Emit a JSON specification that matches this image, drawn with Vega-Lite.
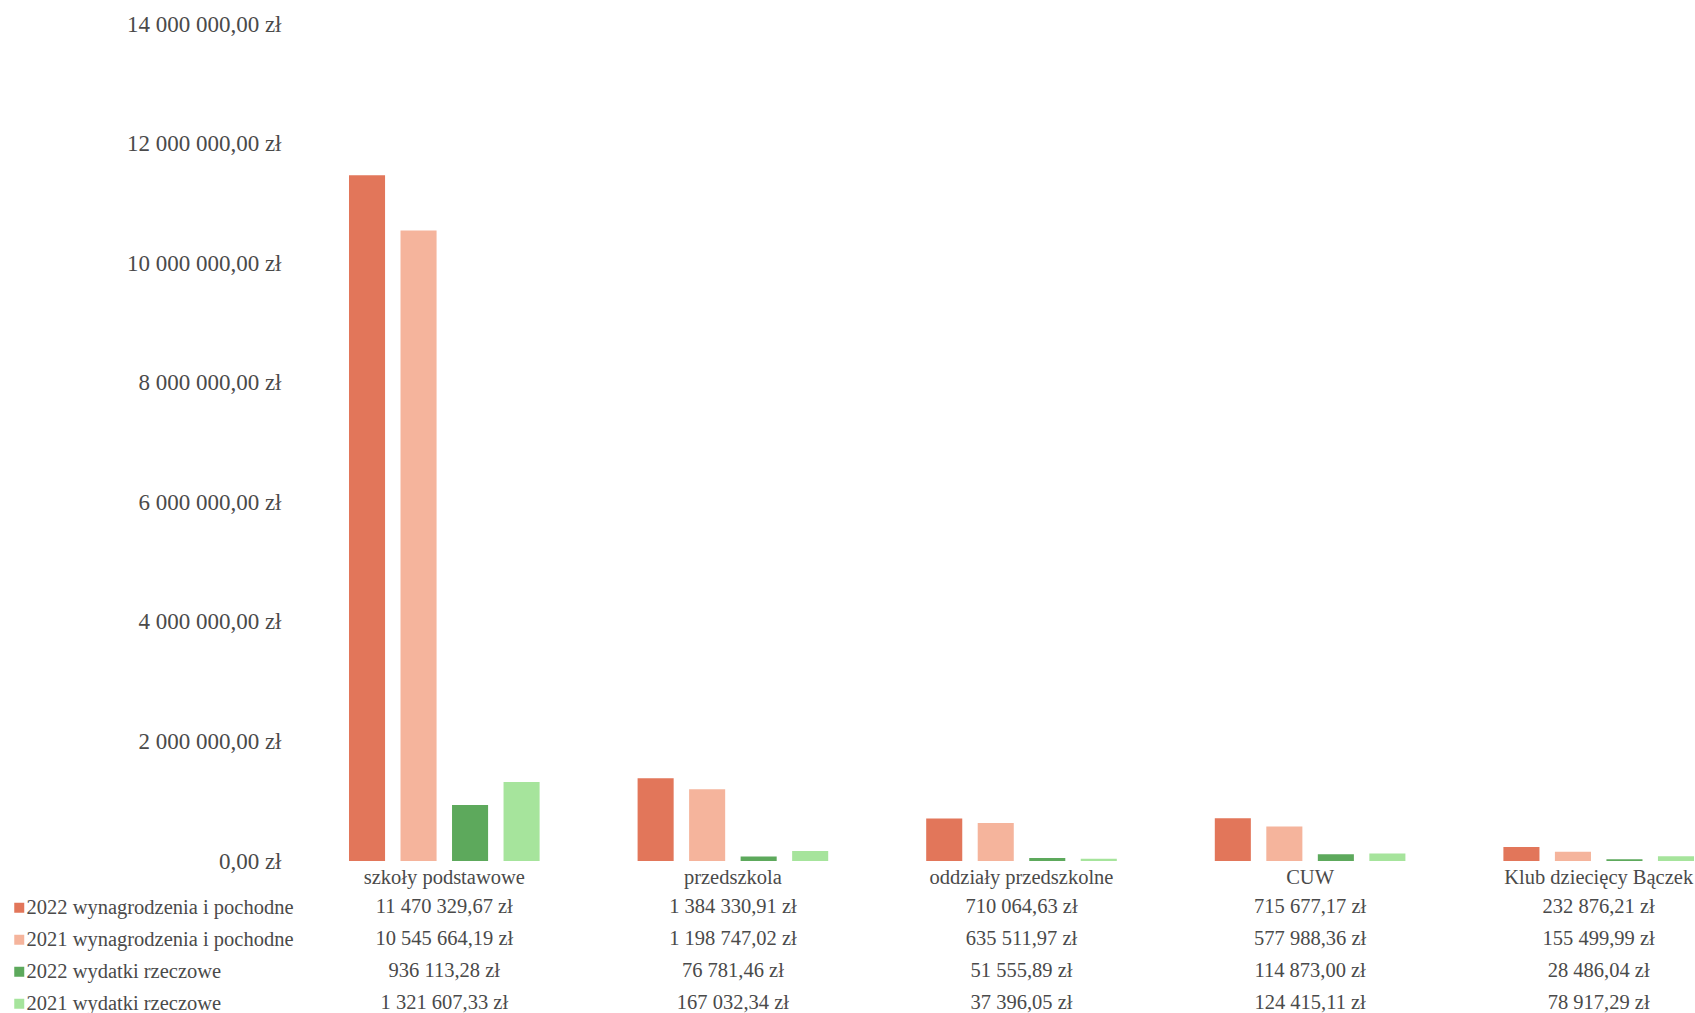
{
  "$schema": "https://vega.github.io/schema/vega-lite/v6.json",
  "background": "white",
  "padding": {"left": 9, "top": 13, "right": 0, "bottom": 0},
  "config": {
    "view": {"stroke": null},
    "font": "Liberation Serif",
    "locale": {"number": {"decimal": ",", "thousands": " ", "grouping": [3], "currency": ["", " zł"]}}
  },
  "data": {"values": [
    {"kategoria": "szkoły podstawowe", "seria": "2022 wynagrodzenia i pochodne", "kwota": 11470329.67},
    {"kategoria": "szkoły podstawowe", "seria": "2021 wynagrodzenia i pochodne", "kwota": 10545664.19},
    {"kategoria": "szkoły podstawowe", "seria": "2022 wydatki rzeczowe", "kwota": 936113.28},
    {"kategoria": "szkoły podstawowe", "seria": "2021 wydatki rzeczowe", "kwota": 1321607.33},
    {"kategoria": "przedszkola", "seria": "2022 wynagrodzenia i pochodne", "kwota": 1384330.91},
    {"kategoria": "przedszkola", "seria": "2021 wynagrodzenia i pochodne", "kwota": 1198747.02},
    {"kategoria": "przedszkola", "seria": "2022 wydatki rzeczowe", "kwota": 76781.46},
    {"kategoria": "przedszkola", "seria": "2021 wydatki rzeczowe", "kwota": 167032.34},
    {"kategoria": "oddziały przedszkolne", "seria": "2022 wynagrodzenia i pochodne", "kwota": 710064.63},
    {"kategoria": "oddziały przedszkolne", "seria": "2021 wynagrodzenia i pochodne", "kwota": 635511.97},
    {"kategoria": "oddziały przedszkolne", "seria": "2022 wydatki rzeczowe", "kwota": 51555.89},
    {"kategoria": "oddziały przedszkolne", "seria": "2021 wydatki rzeczowe", "kwota": 37396.05},
    {"kategoria": "CUW", "seria": "2022 wynagrodzenia i pochodne", "kwota": 715677.17},
    {"kategoria": "CUW", "seria": "2021 wynagrodzenia i pochodne", "kwota": 577988.36},
    {"kategoria": "CUW", "seria": "2022 wydatki rzeczowe", "kwota": 114873.00},
    {"kategoria": "CUW", "seria": "2021 wydatki rzeczowe", "kwota": 124415.11},
    {"kategoria": "Klub dziecięcy Bączek", "seria": "2022 wynagrodzenia i pochodne", "kwota": 232876.21},
    {"kategoria": "Klub dziecięcy Bączek", "seria": "2021 wynagrodzenia i pochodne", "kwota": 155499.99},
    {"kategoria": "Klub dziecięcy Bączek", "seria": "2022 wydatki rzeczowe", "kwota": 28486.04},
    {"kategoria": "Klub dziecięcy Bączek", "seria": "2021 wydatki rzeczowe", "kwota": 78917.29}
  ]},
  "spacing": 3,
  "vconcat": [
    {
      "width": 1443,
      "height": 837,
      "mark": {"type": "bar"},
      "encoding": {
        "x": {
          "field": "kategoria", "type": "nominal",
          "sort": ["szkoły podstawowe", "przedszkola", "oddziały przedszkolne", "CUW", "Klub dziecięcy Bączek"],
          "scale": {"paddingInner": 0.286, "paddingOuter": 0.143},
          "axis": {"title": null, "domain": false, "ticks": false, "labelAngle": 0, "labelPadding": 6, "labelLimit": 500, "labelFontSize": 20.5, "labelColor": "#4a4a4a", "labelFont": "Liberation Serif"}
        },
        "xOffset": {
          "field": "seria", "type": "nominal",
          "sort": ["2022 wynagrodzenia i pochodne", "2021 wynagrodzenia i pochodne", "2022 wydatki rzeczowe", "2021 wydatki rzeczowe"],
          "scale": {"paddingInner": 0.3, "paddingOuter": 0.15}
        },
        "y": {
          "field": "kwota", "type": "quantitative",
          "scale": {"domain": [0, 14000000], "nice": false},
          "axis": {"title": null, "domain": false, "ticks": false, "grid": false, "values": [0, 2000000, 4000000, 6000000, 8000000, 10000000, 12000000, 14000000], "format": "$,.2f", "labelPadding": 19, "labelFontSize": 23, "labelColor": "#4a4a4a", "labelFont": "Liberation Serif"}
        },
        "color": {
          "field": "seria", "type": "nominal",
          "sort": ["2022 wynagrodzenia i pochodne", "2021 wynagrodzenia i pochodne", "2022 wydatki rzeczowe", "2021 wydatki rzeczowe"],
          "scale": {
            "domain": ["2022 wynagrodzenia i pochodne", "2021 wynagrodzenia i pochodne", "2022 wydatki rzeczowe", "2021 wydatki rzeczowe"],
            "range": ["#E2765A", "#F5B49C", "#5DA95C", "#A6E49C"]
          },
          "legend": {
            "title": null, "orient": "none", "legendX": -291, "legendY": 873.5,
            "symbolType": "square", "symbolSize": 100, "symbolStrokeWidth": 0, "symbolOpacity": 1,
            "labelFontSize": 20.5, "labelFont": "Liberation Serif", "labelColor": "#4a4a4a",
            "labelOffset": -3, "rowPadding": 11, "padding": 0, "labelLimit": 400
          }
        }
      }
    },
    {
      "width": 1443,
      "height": 128,
      "mark": {"type": "text", "fontSize": 20.5, "font": "Liberation Serif", "color": "#4a4a4a", "align": "center", "baseline": "middle"},
      "encoding": {
        "x": {
          "field": "kategoria", "type": "nominal",
          "sort": ["szkoły podstawowe", "przedszkola", "oddziały przedszkolne", "CUW", "Klub dziecięcy Bączek"],
          "scale": {"paddingInner": 0.286, "paddingOuter": 0.143},
          "axis": null
        },
        "y": {
          "field": "seria", "type": "nominal",
          "sort": ["2022 wynagrodzenia i pochodne", "2021 wynagrodzenia i pochodne", "2022 wydatki rzeczowe", "2021 wydatki rzeczowe"],
          "scale": {"paddingInner": 0, "paddingOuter": 0},
          "axis": null
        },
        "text": {"field": "kwota", "type": "quantitative", "format": "$,.2f"}
      }
    }
  ]
}
